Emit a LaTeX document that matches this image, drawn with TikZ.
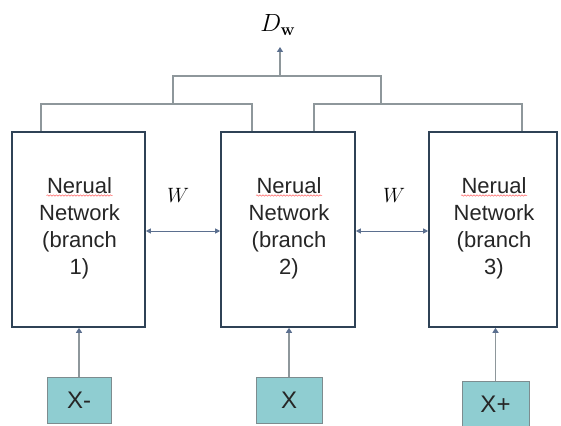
\documentclass[tikz,border=0pt]{standalone}
\usepackage[no-math]{fontspec}
\setmainfont{Liberation Sans}
\usetikzlibrary{arrows.meta,decorations.pathmorphing,calc}
\definecolor{boxline}{HTML}{2F4256}
\definecolor{treeline}{HTML}{8E979B}
\definecolor{arrowc}{HTML}{5B6F8F}
\definecolor{infill}{HTML}{8FCDD1}
\definecolor{inline}{HTML}{7D8C8F}
\begin{document}
\begin{tikzpicture}[x=1pt,y=-1pt,
  netbox/.style={draw=boxline,line width=1.6pt,fill=white,inner sep=0pt},
  inbox/.style={draw=inline,line width=0.9pt,fill=infill,inner sep=0pt,font=\fontsize{24}{26}\selectfont,text=black!85},
  tree/.style={draw=treeline,line width=1.3pt},
  feed/.style={draw=treeline,line width=1.3pt,-{Triangle[length=5pt,width=6pt,color=arrowc]}},
  share/.style={draw=arrowc,line width=1pt,{Triangle[length=5pt,width=5pt]}-{Triangle[length=5pt,width=5pt]}},
  wavy/.style={draw=red!60,line width=0.5pt,decorate,decoration={snake,amplitude=0.7pt,segment length=3pt}},
  nettext/.style={align=center,font=\fontsize{22}{27}\selectfont,text=black!85}]
\useasboundingbox (0,0) rectangle (561,425);
% network boxes
\node[netbox,minimum width=133pt,minimum height=195pt] (b1) at (78.5,229.5) {};
\node[netbox,minimum width=134pt,minimum height=195pt] (b2) at (288,229.5) {};
\node[netbox,minimum width=128pt,minimum height=195pt] (b3) at (493,229.5) {};
\node[nettext] (t1) at ($(b1.center)+(1,-1)$) {Nerual\\Network\\(branch\\1)};
\node[nettext] (t2) at ($(b2.center)+(1,-1)$) {Nerual\\Network\\(branch\\2)};
\node[nettext] (t3) at ($(b3.center)+(1,-1)$) {Nerual\\Network\\(branch\\3)};
% spell-check underlines
\foreach \n in {b1,b2,b3}{
  \draw[wavy] ($(\n.center)+(-32,-34)$) -- ($(\n.center)+(34,-34)$);
}
% inputs
\node[inbox,minimum width=64pt,minimum height=46pt] (xm) at (79,400) {X-};
\node[inbox,minimum width=66pt,minimum height=46pt] (x) at (289,400) {X};
\node[inbox,minimum width=67pt,minimum height=46pt] (xp) at (495.5,404) {X+};
\draw[feed] (xm) -- (b1.south -| xm);
\draw[feed] (x) -- (b2.south -| x);
\draw[feed] (xp) -- (b3.south -| xp);
% shared weights
\coordinate (wy) at (0,231);
\draw[share] (b1.east |- wy) -- (b2.west |- wy);
\draw[share] (b2.east |- wy) -- (b3.west |- wy);
\node[font=\fontsize{22}{24}\selectfont] (w1) at (178,195) {$W$};
\node[font=\fontsize{22}{24}\selectfont] (w2) at (394,195) {$W$};
% combining tree
\coordinate (l1) at (41,104);
\coordinate (l2) at (252,104);
\coordinate (r1) at (314,104);
\coordinate (r2) at (522,104);
\coordinate (tl) at (173,76);
\coordinate (tr) at (381,76);
\draw[tree] (b1.north -| l1) -- (l1) -- (l2) -- (b2.north -| l2);
\draw[tree] (b2.north -| r1) -- (r1) -- (r2) -- (b3.north -| r2);
\draw[tree] (l1 -| tl) -- (tl) -- (tr) -- (r1 -| tr);
\node[font=\fontsize{24}{26}\selectfont] (dw) at (278,25) {$D_{\mathbf{w}}$};
\coordinate (tm) at (280,76);
\coordinate (tt) at (280,47);
\draw[feed] (tm) -- (tt);
\end{tikzpicture}
\end{document}
